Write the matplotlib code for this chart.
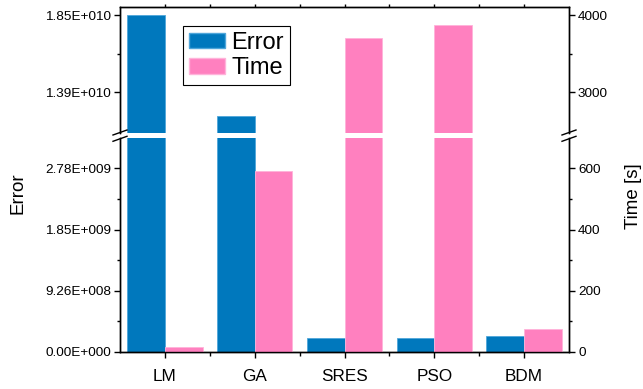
import numpy as np
import matplotlib
matplotlib.use("Agg")
import matplotlib.pyplot as plt
from matplotlib.patches import Patch
from matplotlib.lines import Line2D
from matplotlib.ticker import FixedLocator, FuncFormatter

plt.rcParams['font.family'] = ['Liberation Sans', 'DejaVu Sans']

methods = ["LM", "GA", "SRES", "PSO", "BDM"]
error = [1.855e10, 1.245e10, 2.12e8, 2.08e8, 2.47e8]
time_s = [16, 590, 3708, 3878, 75]

# left axis is the right axis scaled by this factor
scale = 4.63e6
low_lim = (0, 700)
high_lim = (2470, 4105)
low_major = [0, 200, 400, 600]
low_minor = [100, 300, 500]
high_major = [3000, 4000]
high_minor = [3500]

c_err = '#0078BD'
c_time = '#FF80BF'
e_err = '#4FA6DA'
e_time = '#FFB3DA'

W, H = 643, 389
fig = plt.figure(figsize=(W / 100, H / 100), dpi=100)

x0, x1 = 120, 569
def box(ytop, ybot):
    return [x0 / W, (H - ybot) / H, (x1 - x0) / W, (ybot - ytop) / H]

ax_lo = fig.add_axes(box(137.7, 352))
ax_hi = fig.add_axes(box(7.3, 132.7))

def sci(v, pos):
    m, e = f"{v:.2E}".split("E")
    return f"{m}E{int(e):+04d}"

x = np.arange(len(methods))
w = 0.42
for ax, lim, maj, mnr, part in [(ax_lo, low_lim, low_major, low_minor, 'lo'),
                                 (ax_hi, high_lim, high_major, high_minor, 'hi')]:
    axr = ax.twinx()
    ax.bar(x - w / 2, error, w, color=c_err, edgecolor=e_err, linewidth=0.6)
    axr.bar(x + w / 2, time_s, w, color=c_time, edgecolor=e_time, linewidth=0.6)
    ax.set_xlim(-0.5, 4.5)
    ax.set_ylim(lim[0] * scale, lim[1] * scale)
    axr.set_ylim(*lim)
    ax.yaxis.set_major_locator(FixedLocator([v * scale for v in maj]))
    ax.yaxis.set_minor_locator(FixedLocator([v * scale for v in mnr]))
    ax.yaxis.set_major_formatter(FuncFormatter(sci))
    axr.yaxis.set_major_locator(FixedLocator(maj))
    axr.yaxis.set_minor_locator(FixedLocator(mnr))
    for a in (ax, axr):
        for s in a.spines.values():
            s.set_linewidth(1.0)
        a.tick_params(axis='y', which='major', length=4.5, width=1.0, labelsize=9.7, pad=2)
        a.tick_params(axis='y', which='minor', length=2.5, width=1.0)
    ax.set_xticks(x)
    ax.set_xticks(x[:-1] + 0.5, minor=True)
    if part == 'lo':
        for a in (ax, axr):
            a.spines['top'].set_visible(False)
        ax.set_xticklabels(methods)
        ax.tick_params(axis='x', which='major', length=4.5, width=1.0, labelsize=12.3, pad=8)
        ax.tick_params(axis='x', which='minor', length=3, width=1.0)
    else:
        for a in (ax, axr):
            a.spines['bottom'].set_visible(False)
        ax.tick_params(axis='x', which='both', bottom=False, labelbottom=False,
                       top=True, length=2.5, width=1.0)
        handles = [Patch(facecolor=c_err, edgecolor=e_err, label='Error'),
                   Patch(facecolor=c_time, edgecolor=e_time, label='Time')]
        leg = ax.legend(handles=handles, loc='upper left', bbox_to_anchor=(0.14, 0.851),
                        borderaxespad=0, fontsize=17, fancybox=False, framealpha=1,
                        edgecolor='black', handlelength=1.55, handleheight=0.62,
                        handletextpad=0.25, labelspacing=0.15, borderpad=0.25)
        leg.get_frame().set_linewidth(0.8)

# break marks on both spines
for xs in (x0, x1):
    for yc in (132.5, 138.8):
        fig.add_artist(Line2D([(xs - 7) / W, (xs + 7) / W],
                              [(H - yc - 2.5) / H, (H - yc + 2.5) / H],
                              color='black', linewidth=1.0))

fig.text(18.5 / W, 1 - 193 / H, "Error", rotation=90, fontsize=13.5, ha='center', va='center')
fig.text(634 / W, 1 - 196 / H, "Time [s]", rotation=90, fontsize=13.5, ha='center', va='center')

fig.savefig("out.png", dpi=100)
